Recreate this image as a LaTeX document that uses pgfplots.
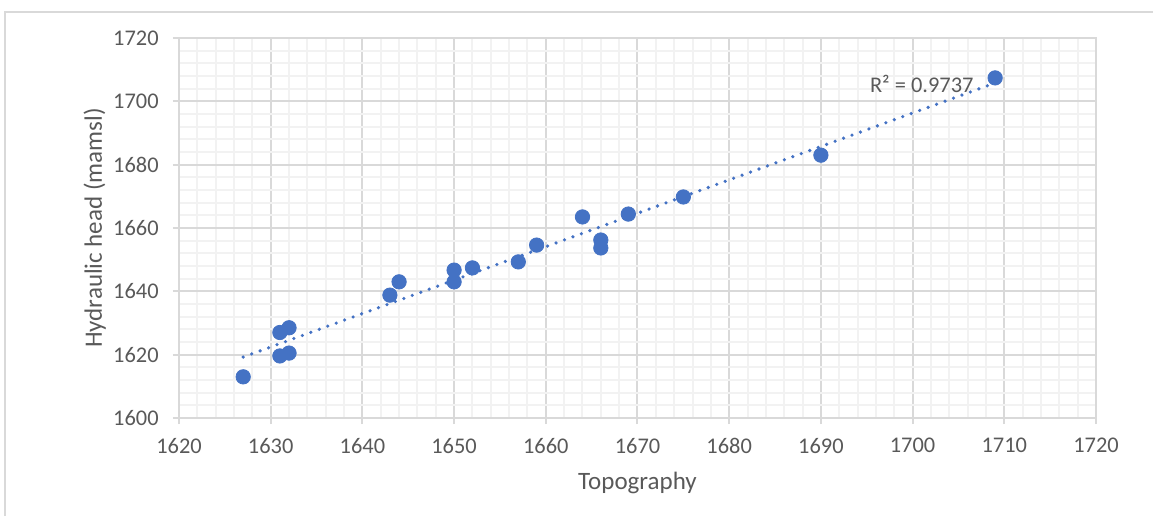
\documentclass[border=0pt]{standalone}
\usepackage{pgfplots}
\pgfplotsset{compat=1.18}
\usepackage{fontspec}
\setmainfont{Carlito}
\definecolor{pt}{HTML}{4472C4}
\definecolor{txt}{HTML}{595959}
\definecolor{maj}{HTML}{D9D9D9}
\definecolor{mnr}{HTML}{F2F2F2}
\begin{document}
\begin{tikzpicture}
\path[use as bounding box] (0,0) rectangle (576.5pt,258pt);
\draw[maj, line width=0.9pt] (2.5pt,0) -- (2.5pt,252pt) -- (576.5pt,252pt);
\begin{axis}[
  at={(89.5pt,49pt)}, anchor=south west,
  scale only axis, width=458.5pt, height=190pt,
  xmin=1620, xmax=1720, ymin=1600, ymax=1720,
  xtick distance=10, ytick distance=20,
  minor x tick num=4, minor y tick num=4,
  grid=both,
  major grid style={maj, line width=1pt},
  minor grid style={mnr, line width=1pt},
  axis line style={maj, line width=1pt},
  xtick pos=left, ytick pos=left,
  tick align=outside,
  major tick length=3pt, minor tick length=0pt,
  tick style={maj, line width=1pt},
  scaled ticks=false,
  /pgf/number format/1000 sep={},
  /pgf/number format/assume math mode=true,
  ticklabel style={font=\fontsize{11.2}{13}\selectfont, text=txt},
  xticklabel style={anchor=north, inner sep=0pt, yshift=-7pt},
  yticklabel style={anchor=east, inner sep=0pt, xshift=-7pt},
  xlabel={Topography},
  ylabel={Hydraulic head (mamsl)},
  label style={font=\fontsize{12.5}{15}\selectfont, text=txt, inner sep=0pt},
  xlabel style={at={([yshift=-35.5pt]axis description cs:0.5,0)}, anchor=base},
  ylabel style={at={([xshift=-38.5pt]axis description cs:0,0.5)}, anchor=base},
  clip=false,
]
\addplot[pt, line width=1.8pt, line cap=round, dash pattern=on 0pt off 4.5pt]
  coordinates {(1627,1619.26) (1709,1705.81)};
\addplot[only marks, mark=*, mark size=3.6pt, mark options={fill=pt, draw=pt}]
  table[row sep=\\] {
  x y \\
  1627 1613 \\
  1631 1627 \\
  1632 1628.5 \\
  1631 1619.6 \\
  1632 1620.5 \\
  1643 1638.8 \\
  1644 1643 \\
  1650 1646.7 \\
  1650 1643 \\
  1652 1647.4 \\
  1657 1649.3 \\
  1659 1654.6 \\
  1664 1663.5 \\
  1666 1656.2 \\
  1666 1653.7 \\
  1669 1664.4 \\
  1675 1669.8 \\
  1690 1683 \\
  1709 1707.4 \\
  };
\node[text=txt, font=\fontsize{11.2}{13}\selectfont, inner sep=0pt] at (axis cs:1701,1705.6) {R² = 0.9737};
\end{axis}
\end{tikzpicture}
\end{document}
